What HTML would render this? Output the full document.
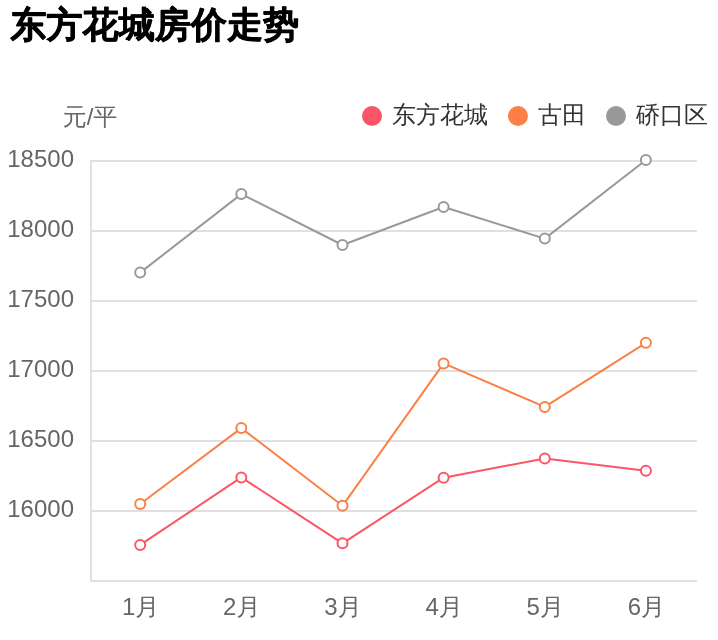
<!DOCTYPE html>
<html lang="zh-CN">
<head>
<meta charset="utf-8">
<title>东方花城房价走势</title>
<style>
html,body{margin:0;padding:0;background:#fff;width:718px;height:640px;overflow:hidden}
svg{position:absolute;left:0;top:0;display:block;will-change:transform}
</style>
</head>
<body>
<svg width="718" height="640" viewBox="0 0 718 640">
  <!-- title -->
  <text x="10.4" y="37" font-family="'Liberation Sans','WenQuanYi Zen Hei',sans-serif" font-size="36" font-weight="900" letter-spacing="0.1" fill="#000" stroke="#000" stroke-width="0.8" stroke-linejoin="round">东方花城房价走势</text>

  <!-- grid lines -->
  <g stroke="#e0e0e0" stroke-width="2" fill="none">
    <line x1="90" y1="161" x2="697" y2="161"/>
    <line x1="90" y1="231" x2="697" y2="231"/>
    <line x1="90" y1="301" x2="697" y2="301"/>
    <line x1="90" y1="371" x2="697" y2="371"/>
    <line x1="90" y1="441" x2="697" y2="441"/>
    <line x1="90" y1="511" x2="697" y2="511"/>
    <line x1="90" y1="581" x2="697" y2="581"/>
    <line x1="91" y1="160" x2="91" y2="582"/>
  </g>

  <!-- y axis name -->
  <text x="90" y="124.6" text-anchor="middle" font-family="'Liberation Sans','WenQuanYi Zen Hei',sans-serif" font-size="24" fill="#666">元/平</text>

  <!-- y labels -->
  <g font-family="'Liberation Sans',sans-serif" font-size="24" fill="#666" text-anchor="end">
    <text x="74" y="167">18500</text>
    <text x="74" y="237">18000</text>
    <text x="74" y="307">17500</text>
    <text x="74" y="377">17000</text>
    <text x="74" y="447">16500</text>
    <text x="74" y="517">16000</text>
  </g>

  <!-- x labels -->
  <g font-family="'Liberation Sans','WenQuanYi Zen Hei',sans-serif" font-size="24" fill="#666" text-anchor="middle">
    <text x="140.7" y="615">1月</text>
    <text x="241.8" y="615">2月</text>
    <text x="343" y="615">3月</text>
    <text x="444.1" y="615">4月</text>
    <text x="545.3" y="615">5月</text>
    <text x="646.4" y="615">6月</text>
  </g>

  <!-- series -->
  <g fill="none" stroke-width="2" stroke-linejoin="round">
    <polyline stroke="#999" points="140.2,272.6 241.3,194.1 342.5,245 443.6,207 544.8,238.6 645.9,160"/>
    <polyline stroke="#fb8048" points="140.2,504 241.3,428.1 342.5,505.8 443.6,363.4 544.8,406.9 645.9,342.8"/>
    <polyline stroke="#fc5568" points="140.2,544.9 241.3,477.4 342.5,543.3 443.6,477.7 544.8,458.5 645.9,470.8"/>
  </g>
  <g fill="#fff" stroke-width="2">
    <g stroke="#999">
      <circle cx="140.2" cy="272.6" r="5"/><circle cx="241.3" cy="194.1" r="5"/><circle cx="342.5" cy="245" r="5"/>
      <circle cx="443.6" cy="207" r="5"/><circle cx="544.8" cy="238.6" r="5"/><circle cx="645.9" cy="160" r="5"/>
    </g>
    <g stroke="#fb8048">
      <circle cx="140.2" cy="504" r="5"/><circle cx="241.3" cy="428.1" r="5"/><circle cx="342.5" cy="505.8" r="5"/>
      <circle cx="443.6" cy="363.4" r="5"/><circle cx="544.8" cy="406.9" r="5"/><circle cx="645.9" cy="342.8" r="5"/>
    </g>
    <g stroke="#fc5568">
      <circle cx="140.2" cy="544.9" r="5"/><circle cx="241.3" cy="477.4" r="5"/><circle cx="342.5" cy="543.3" r="5"/>
      <circle cx="443.6" cy="477.7" r="5"/><circle cx="544.8" cy="458.5" r="5"/><circle cx="645.9" cy="470.8" r="5"/>
    </g>
  </g>

  <!-- legend -->
  <circle cx="372" cy="116" r="10" fill="#fc5568"/>
  <circle cx="518" cy="116" r="10" fill="#fb8048"/>
  <circle cx="616" cy="116" r="10" fill="#999"/>
  <g font-family="'Liberation Sans','WenQuanYi Zen Hei',sans-serif" font-size="24" fill="#333">
    <text x="392" y="122.8">东方花城</text>
    <text x="538" y="122.8">古田</text>
    <text x="636" y="122.8">硚口区</text>
  </g>
</svg>
</body>
</html>
